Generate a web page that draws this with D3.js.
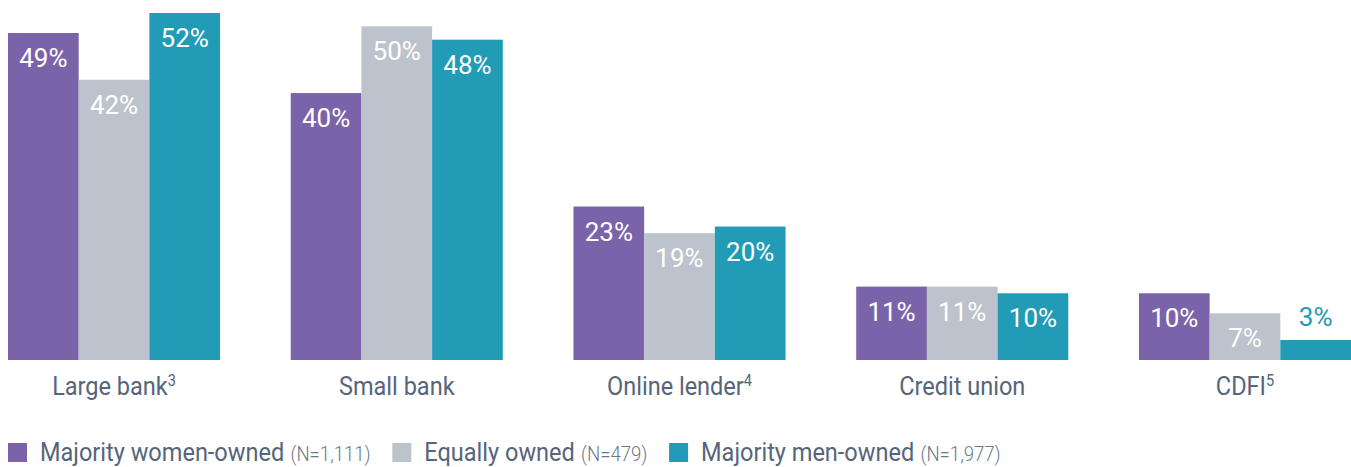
<!DOCTYPE html>
<html>
<head>
<meta charset="utf-8">
<script src="https://cdn.jsdelivr.net/npm/d3@7"></script>
<style>
  html, body { margin: 0; padding: 0; background: #fff; }
  svg { display: block; }
</style>
</head>
<body>
<svg id="chart" width="1351" height="467"></svg>
<script>
// Share of firms using each lender type, by ownership
const categories = ["Large bank", "Small bank", "Online lender", "Credit union", "CDFI"];
const footnotes = ["3", "", "4", "", "5"];
const seriesNames = ["Majority women-owned", "Equally owned", "Majority men-owned"];
const seriesN = ["(N=1,111)", "(N=479)", "(N=1,977)"];
const women = [49, 40, 23, 11, 10];
const equal = [42, 50, 19, 11, 7];
const men = [52, 48, 20, 10, 3];
const colors = ["#7b63a9", "#bdc3cc", "#219bb6"];

const series = [women, equal, men];
const svg = d3.select("#chart");
const W = 1351;
const baseline = 360;
const condensed = 0.905;
const textColor = "#56657a";

const x0 = d3.scaleBand().domain(categories).range([8, W]).paddingInner(0.25).paddingOuter(0);
const x1 = d3.scaleBand().domain(d3.range(3)).range([0, x0.bandwidth()]).padding(0);
const y = d3.scaleLinear().domain([0, 52]).range([baseline, 13]);

const groups = svg.selectAll("g.grp").data(categories).join("g")
  .attr("class", "grp")
  .attr("transform", d => `translate(${x0(d)},0)`);

groups.each(function(cat, ci) {
  const g = d3.select(this);
  series.forEach((vals, si) => {
    const v = vals[ci];
    g.append("rect")
      .attr("x", x1(si))
      .attr("y", y(v))
      .attr("width", x1.bandwidth())
      .attr("height", baseline - y(v))
      .attr("fill", colors[si]);
    const inside = baseline - y(v) > 40;
    g.append("text")
      .attr("x", x1(si) + x1.bandwidth() / 2)
      .attr("y", inside ? y(v) + 34 : y(v) - 14)
      .attr("text-anchor", "middle")
      .attr("font-family", "Roboto, sans-serif")
      .attr("font-size", 26)
      .attr("font-weight", 400)
      .attr("fill", inside ? "#fff" : colors[si])
      .text(v + "%");
  });

  // category label, condensed
  const lbl = g.append("g")
    .attr("transform", `translate(${x0.bandwidth() / 2},395) scale(${condensed},1)`)
    .append("text")
    .attr("text-anchor", "middle")
    .attr("font-family", "Roboto, sans-serif")
    .attr("font-size", 26)
    .attr("font-weight", 400)
    .attr("fill", textColor);
  lbl.append("tspan").text(cat);
  if (footnotes[ci]) {
    lbl.append("tspan").attr("font-size", 16).attr("dy", -9).text(footnotes[ci]);
  }
});

// legend
let lx = 8;
const ly = 461;
seriesNames.forEach((name, i) => {
  svg.append("rect").attr("x", lx).attr("y", ly - 18).attr("width", 19).attr("height", 19).attr("fill", colors[i]);
  lx += 32;
  const tg = svg.append("g").attr("transform", `translate(${lx},${ly}) scale(${condensed},1)`);
  const t = tg.append("text")
    .attr("font-family", "Roboto, sans-serif")
    .attr("font-size", 26)
    .attr("font-weight", 400)
    .attr("fill", textColor);
  t.append("tspan").text(name);
  t.append("tspan").attr("font-size", 20.5).attr("font-weight", 300).attr("fill", "#6b7889").attr("dx", 7).text(seriesN[i]);
  lx += t.node().getComputedTextLength() * condensed + 28;
});
</script>
</body>
</html>
